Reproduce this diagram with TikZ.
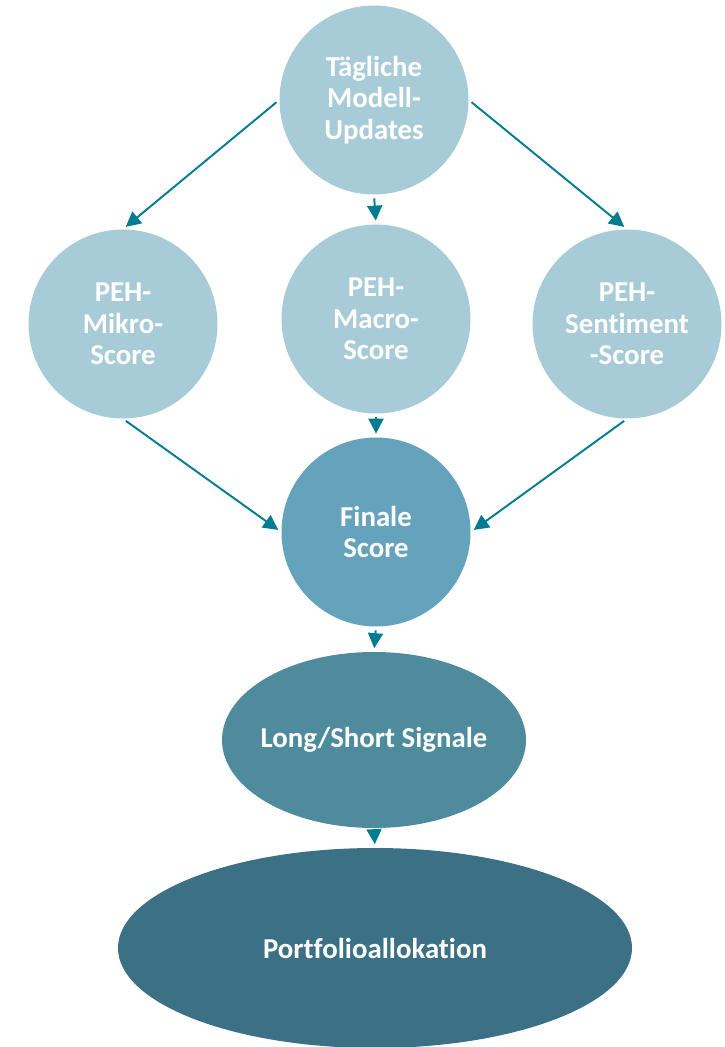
\documentclass[tikz,border=0pt]{standalone}
\usepackage{fontspec}
\setmainfont{Carlito}[Ligatures=NoCommon]
\usetikzlibrary{arrows.meta,shapes.geometric}

\definecolor{lightblue}{HTML}{A8CBD8}
\definecolor{midblue}{HTML}{65A3BC}
\definecolor{darkblue}{HTML}{4D8B9D}
\definecolor{deepblue}{HTML}{3C7085}
\definecolor{arrowteal}{HTML}{007C91}

\begin{document}
\begin{tikzpicture}[
  every node/.style={text=white, font=\fontsize{16.4}{17.8}\selectfont\bfseries, align=center},
  bubble/.style={circle, fill=lightblue, minimum size=3.78cm, inner sep=0pt},
  oval/.style={ellipse, inner sep=0pt},
  arr/.style={-{Triangle[length=0.3cm,width=0.3cm]}, draw=arrowteal, fill=arrowteal, line width=1.1pt, shorten <=2pt, shorten >=2pt}]
  \useasboundingbox (0,0) rectangle (14.5,-20.94);
  \node[bubble] (upd) at (7.48, -2.0) {Tägliche\\Modell-\\Updates};
  \node[bubble] (mikro) at (2.46, -6.48) {PEH-\\Mikro-\\Score};
  \node[bubble] (macro) at (7.52, -6.38) {PEH-\\Macro-\\Score};
  \node[bubble] (senti) at (12.54, -6.48) {PEH-\\Sentiment\\-Score};
  \node[bubble, fill=midblue] (fin) at (7.52, -10.64) {Finale\\Score};
  \node[oval, fill=darkblue, minimum width=6.08cm, minimum height=3.52cm] (sig) at (7.48, -14.8) {\makebox[0pt]{Long/Short Signale}};
  \node[oval, fill=deepblue, minimum width=10.28cm, minimum height=4.0cm] (port) at (7.5, -18.96) {\makebox[0pt]{Portfolioallokation}};
  \draw[arr] (upd.west) -- (mikro.north);
  \draw[arr] (upd.south) -- (macro.north);
  \draw[arr] (upd.east) -- (senti.north);
  \draw[arr] (mikro.south) -- (fin.west);
  \draw[arr] (macro.south) -- (fin.north);
  \draw[arr] (senti.south) -- (fin.east);
  \draw[arr] (fin.south) -- (sig.north);
  \draw[arr] (sig.south) -- (port.north);
\end{tikzpicture}
\end{document}
